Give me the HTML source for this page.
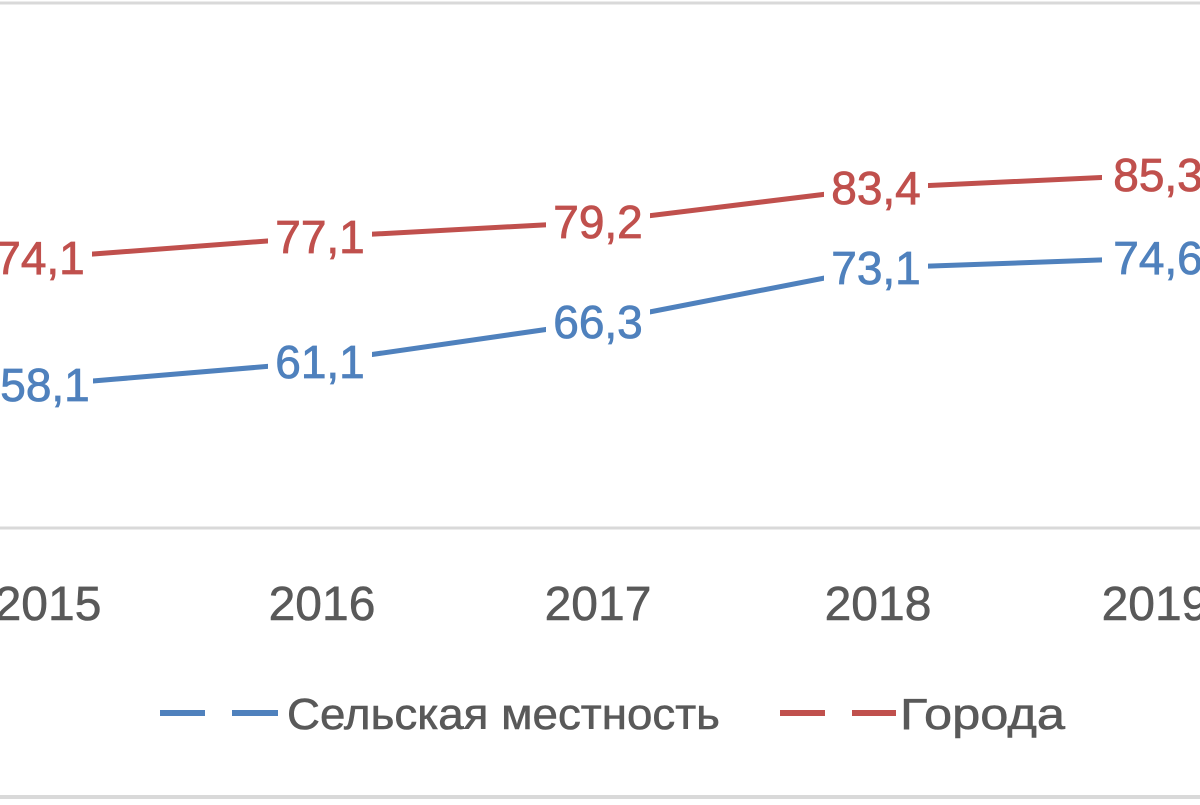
<!DOCTYPE html>
<html><head><meta charset="utf-8"><style>
body{margin:0;background:#fff;}
svg text{font-family:"Liberation Sans",sans-serif;}
</style></head><body>
<svg width="1200" height="800" xmlns="http://www.w3.org/2000/svg">
<rect x="0" y="0" width="1200" height="800" fill="#fff"/>
<line x1="0" y1="3" x2="1200" y2="3" stroke="#d9d9d9" stroke-width="3"/>
<line x1="0" y1="797" x2="1200" y2="797" stroke="#d9d9d9" stroke-width="4"/>
<line x1="0" y1="528" x2="1200" y2="528" stroke="#d9d9d9" stroke-width="3"/>
<polyline points="40,258 320,237 598,222 876,188 1155,175" fill="none" stroke="#c0504d" stroke-width="5"/>
<polyline points="45,385 320,362 598,322 876,268 1155,258" fill="none" stroke="#4f81bd" stroke-width="5"/>
<g fill="#fff">
<rect x="-10" y="236" width="102" height="44"/><rect x="268" y="215" width="104" height="44"/><rect x="546" y="200" width="104" height="44"/><rect x="824" y="166" width="104" height="44"/><rect x="1102" y="153" width="104" height="44"/>
<rect x="-5" y="363" width="98" height="44"/><rect x="268" y="340" width="104" height="44"/><rect x="546" y="300" width="104" height="44"/><rect x="824" y="246" width="104" height="44"/><rect x="1102" y="236" width="104" height="44"/>
</g>
<g font-size="46" text-anchor="middle" fill="#c0504d" stroke="#c0504d" stroke-width="0.8">
<text x="40" y="274">74,1</text><text x="320" y="253">77,1</text><text x="598" y="238">79,2</text><text x="876" y="204">83,4</text><text x="1158" y="191">85,3</text>
</g>
<g font-size="46" text-anchor="middle" fill="#4f81bd" stroke="#4f81bd" stroke-width="0.8">
<text x="45" y="401">58,1</text><text x="320" y="378">61,1</text><text x="598" y="338">66,3</text><text x="876" y="284">73,1</text><text x="1158" y="274">74,6</text>
</g>
<g font-size="48" text-anchor="middle" fill="#595959" stroke="#595959" stroke-width="0.6">
<text x="48" y="620">2015</text><text x="322" y="620">2016</text><text x="598" y="620">2017</text><text x="878" y="620">2018</text><text x="1155" y="620">2019</text>
</g>
<g stroke-width="6">
<line x1="160" y1="713" x2="205" y2="713" stroke="#4f81bd"/><line x1="232" y1="713" x2="278" y2="713" stroke="#4f81bd"/>
<line x1="780" y1="713" x2="825" y2="713" stroke="#c0504d"/><line x1="852" y1="713" x2="896" y2="713" stroke="#c0504d"/>
</g>
<g font-size="44" fill="#595959" stroke="#595959" stroke-width="0.6">
<text x="287" y="729" textLength="433" lengthAdjust="spacingAndGlyphs">Сельская местность</text>
<text x="900" y="729" textLength="165" lengthAdjust="spacingAndGlyphs">Города</text>
</g>
</svg>
</body></html>
